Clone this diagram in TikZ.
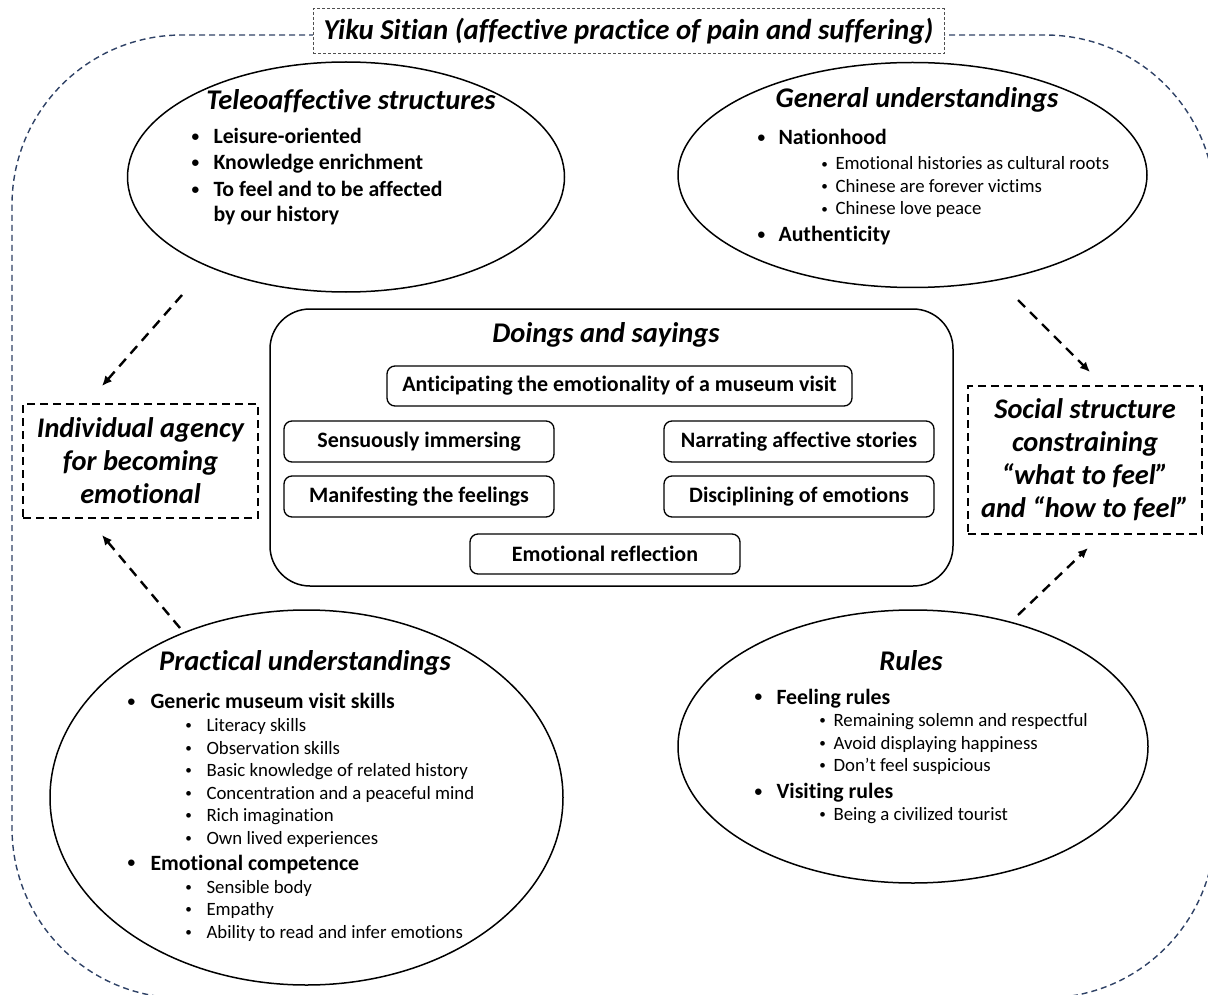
\documentclass[tikz,border=0pt]{standalone}
\usepackage{fontspec}
\setmainfont{Carlito}[Ligatures=NoCommon]
\usepackage{graphicx}
\usepackage{tikz}
\usetikzlibrary{shapes.geometric, arrows.meta}

\definecolor{framenavy}{RGB}{47,66,102}
\definecolor{titlegray}{RGB}{80,80,80}

% small bullet hanging left of the line start
\newcommand{\itemdot}[1]{\llap{\makebox[0pt]{\raisebox{0.1em}{\scalebox{0.7}{•}}}\hspace{#1}}}

\begin{document}
\begin{tikzpicture}[x=1pt, y=-1pt,
        oval/.style={draw, line width=1.5pt, ellipse, inner sep=0pt},
        head/.style={font=\fontsize{28.5}{34}\bfseries\itshape\selectfont, anchor=base},
        main/.style={font=\fontsize{21.8}{26.7}\bfseries\selectfont, anchor=base west},
        sub/.style={font=\fontsize{18.8}{22.5}\selectfont, anchor=base west},
        act/.style={draw, line width=1.3pt, rounded corners=8pt, inner sep=0pt,
            font=\fontsize{22}{26}\bfseries\selectfont},
        outcome/.style={draw, line width=2.2pt, dash pattern=on 8pt off 5pt, inner sep=0pt,
            align=center, font=\fontsize{28.4}{33}\bfseries\itshape\selectfont},
        flow/.style={line width=2.4pt, dash pattern=on 10pt off 7pt,
            -{Latex[length=10pt,width=9pt]}}
    ]
        \useasboundingbox (0,0) rectangle (1208,995);
        \clip (0,0) rectangle (1208,995);

        % Outer frame and its title
        \draw[framenavy, line width=1.4pt, dash pattern=on 6pt off 4pt, rounded corners=170pt]
            (12,35) rectangle (1215,998);
        \node[draw=titlegray, line width=1pt, dash pattern=on 3pt off 2pt, fill=white,
            minimum width=631, minimum height=45, inner sep=0pt,
            font=\fontsize{28.8}{34}\bfseries\itshape\selectfont] (title) at (628.5,31.5)
            {Yiku Sitian (affective practice of pain and suffering)};

        % The four ellipses
        \node[oval, minimum width=437, minimum height=230] (tele) at (346,177) {};
        \node[oval, minimum width=469, minimum height=225] (general) at (912.5,175) {};
        \node[oval, minimum width=513, minimum height=375] (practical) at (306.5,797.5) {};
        \node[oval, minimum width=470, minimum height=273] (rules) at (913,746.5) {};

        % Teleoaffective structures
        \node[head] (teleHead) at (351,110) {Teleoaffective structures};
        \foreach \txt [count=\i] in {Leisure-oriented, Knowledge enrichment, To feel and to be affected}
            \node[main] (tele-\i) at (210,{143.3+26.7*(\i-1)}) {\itemdot{18pt}\txt};
        \node[main] (tele-4) at (210,221.7) {by our history};

        % General understandings
        \node[head] (generalHead) at (917,108) {General understandings};
        \node[main] (gen-1) at (775,145) {\itemdot{17pt}Nationhood};
        \foreach \txt [count=\i] in {Emotional histories as cultural roots, Chinese are forever victims, Chinese love peace}
            \node[sub] (gen-sub-\i) at (832,{170+22.5*(\i-1)}) {\itemdot{11pt}\txt};
        \node[main] (gen-2) at (775,241.7) {\itemdot{17pt}Authenticity};

        % Practical understandings
        \node[head] (pracHead) at (305,670) {Practical understandings};
        \node[main] (prac-1) at (147,708.7) {\itemdot{19pt}Generic museum visit skills};
        \foreach \txt [count=\i] in {Literacy skills, Observation skills, Basic knowledge of related history,
                Concentration and a peaceful mind, Rich imagination, Own lived experiences}
            \node[sub] (prac-sub-\i) at (203,{731.7+22.5*(\i-1)}) {\itemdot{18pt}\txt};
        \node[main] (prac-2) at (147,870) {\itemdot{19pt}Emotional competence};
        \foreach \txt [count=\i from 7] in {Sensible body, Empathy, Ability to read and infer emotions}
            \node[sub] (prac-sub-\i) at (203,{893+22.5*(\i-7)}) {\itemdot{18pt}\txt};

        % Rules
        \node[head] (rulesHead) at (911,670.7) {Rules};
        \node[main] (rules-1) at (773,704) {\itemdot{18pt}Feeling rules};
        \foreach \txt [count=\i] in {Remaining solemn and respectful, Avoid displaying happiness, Don’t feel suspicious}
            \node[sub] (rules-sub-\i) at (830,{726.7+22.5*(\i-1)}) {\itemdot{11pt}\txt};
        \node[main] (rules-2) at (773,798.3) {\itemdot{18pt}Visiting rules};
        \node[sub] (rules-sub-4) at (830,820) {\itemdot{11pt}Being a civilized tourist};

        % Doings and sayings
        \node[draw, line width=1.5pt, rounded corners=40pt, minimum width=683, minimum height=277]
            (doings) at (611.5,447.5) {};
        \node[head] (doingsHead) at (606,342.7) {Doings and sayings};
        \node[act, minimum width=465, minimum height=40] (anticipate) at (619.5,386) {Anticipating the emotionality of a museum visit};
        \node[act, minimum width=270, minimum height=41] (immerse) at (419,441.5) {Sensuously immersing};
        \node[act, minimum width=270, minimum height=41] (narrate) at (799,441.5) {Narrating affective stories};
        \node[act, minimum width=270, minimum height=41] (manifest) at (419,496.5) {Manifesting the feelings};
        \node[act, minimum width=270, minimum height=41] (discipline) at (799,496.5) {Disciplining of emotions};
        \node[act, minimum width=270, minimum height=40] (reflect) at (605,554) {Emotional reflection};

        % Outcomes
        \node[outcome, minimum width=235, minimum height=114] (agency) at (140.5,461)
            {Individual agency\\for becoming\\emotional};
        \node[outcome, minimum width=234, minimum height=148] (social) at (1085,460)
            {Social structure\\constraining\\“what to feel”\\and “how to feel”};

        % Arrows
        \coordinate (teleOut) at (182,295);
        \coordinate (agencyTop) at (102,386);
        \coordinate (pracOut) at (180,628);
        \coordinate (agencyBottom) at (102,535);
        \coordinate (generalOut) at (1018,300);
        \coordinate (socialTop) at (1090,372);
        \coordinate (rulesOut) at (1018,615);
        \coordinate (socialBottom) at (1088,548);
        \draw[flow] (teleOut) -- (agencyTop);
        \draw[flow] (pracOut) -- (agencyBottom);
        \draw[flow] (generalOut) -- (socialTop);
        \draw[flow] (rulesOut) -- (socialBottom);
    \end{tikzpicture}
\end{document}
